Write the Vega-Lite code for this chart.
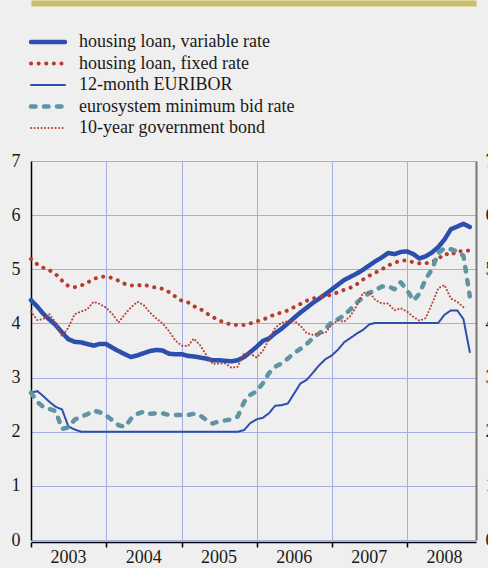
{
 "$schema": "https://vega.github.io/schema/vega-lite/v6.json",
 "width": 445, "height": 379,
 "autosize": {"type": "none"},
 "padding": {"left": 31, "top": 161, "right": 12, "bottom": 28},
 "background": "#efefef",
 "config": {"view": {"stroke": null}, "font": "Liberation Serif, Times New Roman, serif",
  "axis": {"labelFont": "Liberation Serif, Times New Roman, serif"},
  "legend": {"labelFont": "Liberation Serif, Times New Roman, serif"}},
 "data": {"values": [
  {"d":"2003-01-01","var":4.43,"fix":5.19,"eur":2.72,"bid":2.72,"bond":4.22},
  {"d":"2003-02-01","var":4.31,"fix":5.09,"eur":2.75,"bid":2.55,"bond":4.06},
  {"d":"2003-03-01","var":4.18,"fix":5.03,"eur":2.66,"bid":2.46,"bond":4.08},
  {"d":"2003-04-01","var":4.07,"fix":4.98,"eur":2.55,"bid":2.42,"bond":4.17},
  {"d":"2003-05-01","var":3.97,"fix":4.91,"eur":2.46,"bid":2.38,"bond":4.01},
  {"d":"2003-06-01","var":3.83,"fix":4.79,"eur":2.41,"bid":2.05,"bond":3.76},
  {"d":"2003-07-01","var":3.71,"fix":4.69,"eur":2.10,"bid":2.08,"bond":3.92},
  {"d":"2003-08-01","var":3.66,"fix":4.67,"eur":2.04,"bid":2.22,"bond":4.17},
  {"d":"2003-09-01","var":3.65,"fix":4.70,"eur":2.00,"bid":2.28,"bond":4.22},
  {"d":"2003-10-01","var":3.62,"fix":4.75,"eur":2.00,"bid":2.32,"bond":4.26},
  {"d":"2003-11-01","var":3.59,"fix":4.82,"eur":2.00,"bid":2.39,"bond":4.40},
  {"d":"2003-12-01","var":3.62,"fix":4.86,"eur":2.00,"bid":2.36,"bond":4.36},
  {"d":"2004-01-01","var":3.62,"fix":4.86,"eur":2.00,"bid":2.30,"bond":4.29},
  {"d":"2004-02-01","var":3.55,"fix":4.84,"eur":2.00,"bid":2.21,"bond":4.17},
  {"d":"2004-03-01","var":3.49,"fix":4.79,"eur":2.00,"bid":2.12,"bond":4.02},
  {"d":"2004-04-01","var":3.43,"fix":4.73,"eur":2.00,"bid":2.09,"bond":4.17},
  {"d":"2004-05-01","var":3.38,"fix":4.70,"eur":2.00,"bid":2.24,"bond":4.30},
  {"d":"2004-06-01","var":3.41,"fix":4.70,"eur":2.00,"bid":2.33,"bond":4.40},
  {"d":"2004-07-01","var":3.45,"fix":4.72,"eur":2.00,"bid":2.37,"bond":4.34},
  {"d":"2004-08-01","var":3.49,"fix":4.68,"eur":2.00,"bid":2.33,"bond":4.20},
  {"d":"2004-09-01","var":3.51,"fix":4.66,"eur":2.00,"bid":2.34,"bond":4.09},
  {"d":"2004-10-01","var":3.50,"fix":4.64,"eur":2.00,"bid":2.34,"bond":4.00},
  {"d":"2004-11-01","var":3.44,"fix":4.58,"eur":2.00,"bid":2.31,"bond":3.86},
  {"d":"2004-12-01","var":3.43,"fix":4.50,"eur":2.00,"bid":2.31,"bond":3.69},
  {"d":"2005-01-01","var":3.43,"fix":4.42,"eur":2.00,"bid":2.31,"bond":3.59},
  {"d":"2005-02-01","var":3.40,"fix":4.39,"eur":2.00,"bid":2.31,"bond":3.58},
  {"d":"2005-03-01","var":3.39,"fix":4.32,"eur":2.00,"bid":2.33,"bond":3.72},
  {"d":"2005-04-01","var":3.37,"fix":4.27,"eur":2.00,"bid":2.30,"bond":3.60},
  {"d":"2005-05-01","var":3.35,"fix":4.19,"eur":2.00,"bid":2.22,"bond":3.42},
  {"d":"2005-06-01","var":3.32,"fix":4.12,"eur":2.00,"bid":2.15,"bond":3.25},
  {"d":"2005-07-01","var":3.32,"fix":4.06,"eur":2.00,"bid":2.19,"bond":3.26},
  {"d":"2005-08-01","var":3.31,"fix":4.01,"eur":2.00,"bid":2.21,"bond":3.26},
  {"d":"2005-09-01","var":3.30,"fix":3.98,"eur":2.00,"bid":2.23,"bond":3.18},
  {"d":"2005-10-01","var":3.32,"fix":3.97,"eur":2.00,"bid":2.28,"bond":3.20},
  {"d":"2005-11-01","var":3.38,"fix":3.97,"eur":2.03,"bid":2.55,"bond":3.45},
  {"d":"2005-12-01","var":3.47,"fix":4.00,"eur":2.16,"bid":2.68,"bond":3.44},
  {"d":"2006-01-01","var":3.57,"fix":4.04,"eur":2.23,"bid":2.75,"bond":3.37},
  {"d":"2006-02-01","var":3.68,"fix":4.07,"eur":2.26,"bid":2.90,"bond":3.50},
  {"d":"2006-03-01","var":3.72,"fix":4.12,"eur":2.34,"bid":3.08,"bond":3.70},
  {"d":"2006-04-01","var":3.82,"fix":4.17,"eur":2.48,"bid":3.20,"bond":3.92},
  {"d":"2006-05-01","var":3.90,"fix":4.20,"eur":2.49,"bid":3.26,"bond":4.01},
  {"d":"2006-06-01","var":4.00,"fix":4.24,"eur":2.52,"bid":3.35,"bond":4.04},
  {"d":"2006-07-01","var":4.10,"fix":4.30,"eur":2.70,"bid":3.45,"bond":4.05},
  {"d":"2006-08-01","var":4.20,"fix":4.36,"eur":2.89,"bid":3.53,"bond":3.96},
  {"d":"2006-09-01","var":4.29,"fix":4.42,"eur":2.96,"bid":3.62,"bond":3.82},
  {"d":"2006-10-01","var":4.38,"fix":4.46,"eur":3.09,"bid":3.73,"bond":3.79},
  {"d":"2006-11-01","var":4.46,"fix":4.49,"eur":3.23,"bid":3.82,"bond":3.81},
  {"d":"2006-12-01","var":4.54,"fix":4.51,"eur":3.34,"bid":3.90,"bond":3.83},
  {"d":"2007-01-01","var":4.63,"fix":4.53,"eur":3.41,"bid":4.03,"bond":3.98},
  {"d":"2007-02-01","var":4.72,"fix":4.58,"eur":3.52,"bid":4.08,"bond":4.06},
  {"d":"2007-03-01","var":4.80,"fix":4.62,"eur":3.65,"bid":4.15,"bond":4.03},
  {"d":"2007-04-01","var":4.86,"fix":4.66,"eur":3.73,"bid":4.26,"bond":4.14},
  {"d":"2007-05-01","var":4.92,"fix":4.72,"eur":3.81,"bid":4.38,"bond":4.32},
  {"d":"2007-06-01","var":4.99,"fix":4.81,"eur":3.88,"bid":4.48,"bond":4.56},
  {"d":"2007-07-01","var":5.07,"fix":4.88,"eur":3.98,"bid":4.56,"bond":4.58},
  {"d":"2007-08-01","var":5.15,"fix":4.94,"eur":4.01,"bid":4.62,"bond":4.43},
  {"d":"2007-09-01","var":5.22,"fix":5.00,"eur":4.01,"bid":4.68,"bond":4.37},
  {"d":"2007-10-01","var":5.30,"fix":5.07,"eur":4.01,"bid":4.69,"bond":4.37},
  {"d":"2007-11-01","var":5.28,"fix":5.12,"eur":4.01,"bid":4.63,"bond":4.24},
  {"d":"2007-12-01","var":5.32,"fix":5.16,"eur":4.01,"bid":4.76,"bond":4.28},
  {"d":"2008-01-01","var":5.33,"fix":5.16,"eur":4.01,"bid":4.62,"bond":4.22},
  {"d":"2008-02-01","var":5.28,"fix":5.13,"eur":4.01,"bid":4.42,"bond":4.12},
  {"d":"2008-03-01","var":5.20,"fix":5.11,"eur":4.01,"bid":4.55,"bond":4.05},
  {"d":"2008-04-01","var":5.24,"fix":5.11,"eur":4.01,"bid":4.82,"bond":4.10},
  {"d":"2008-05-01","var":5.31,"fix":5.14,"eur":4.01,"bid":5.00,"bond":4.36},
  {"d":"2008-06-01","var":5.41,"fix":5.19,"eur":4.01,"bid":5.30,"bond":4.65},
  {"d":"2008-07-01","var":5.55,"fix":5.29,"eur":4.16,"bid":5.39,"bond":4.71},
  {"d":"2008-08-01","var":5.74,"fix":5.26,"eur":4.24,"bid":5.37,"bond":4.46},
  {"d":"2008-09-01","var":5.79,"fix":5.34,"eur":4.24,"bid":5.33,"bond":4.40},
  {"d":"2008-10-01","var":5.84,"fix":5.33,"eur":4.08,"bid":5.25,"bond":4.30},
  {"d":"2008-11-01","var":5.78,"fix":5.35,"eur":3.47,"bid":4.50,"bond":null}
 ]},
 "transform": [{"fold": ["var", "fix", "eur", "bid", "bond"], "as": ["series", "v"]}],
 "resolve": {"axis": {"x": "independent", "y": "independent"}},
 "layer": [
  {
   "mark": {"type": "line", "strokeCap": "round", "strokeJoin": "round"},
   "encoding": {
    "x": {"field": "d", "type": "temporal",
     "scale": {"type": "utc", "domain": [{"year": 2003, "month": 1, "date": 1, "utc": true}, {"year": 2008, "month": 12, "date": 1, "utc": true}]},
     "axis": {"orient": "bottom", "title": null, "format": "%Y",
      "values": [{"year": 2003, "month": 1, "date": 1, "utc": true}, {"year": 2004, "month": 1, "date": 1, "utc": true}, {"year": 2005, "month": 1, "date": 1, "utc": true}, {"year": 2006, "month": 1, "date": 1, "utc": true}, {"year": 2007, "month": 1, "date": 1, "utc": true}, {"year": 2008, "month": 1, "date": 1, "utc": true}],
      "labelOffset": 37, "labelFlush": false, "labelOverlap": false, "offset": 2,
      "domainColor": "#000", "domainWidth": 1.5, "tickColor": "#000", "tickWidth": 1.5, "tickSize": 5,
      "labelPadding": 1, "labelFontSize": 18, "labelColor": "#1a1a1a",
      "grid": true, "gridColor": "#a4ace4", "gridWidth": 1}},
    "y": {"field": "v", "type": "quantitative",
     "scale": {"domain": [0, 7], "nice": false},
     "axis": {"orient": "left", "title": null, "values": [0, 1, 2, 3, 4, 5, 6, 7], "ticks": false,
      "domainColor": "#000", "domainWidth": 1.5, "labelPadding": 11,
      "labelFontSize": 18, "labelColor": "#1a1a1a",
      "grid": true, "gridColor": "#a4ace4", "gridWidth": 1}},
    "color": {"field": "series", "type": "nominal",
     "scale": {"domain": ["var", "fix", "eur", "bid", "bond"], "range": ["#2c4fae", "#b63c30", "#2c4fae", "#5e94a4", "#b84035"]},
     "legend": {"title": null, "orient": "none", "legendX": 8, "legendY": -128,
      "symbolType": "M-3.4,0H3.4", "symbolSize": 100, "labelOffset": 22, "rowPadding": 3.5, "padding": 0,
      "labelFont": "Liberation Serif", "labelFontSize": 18, "labelColor": "#1a1a1a", "labelLimit": 400,
      "labelExpr": "{'var':'housing loan, variable rate','fix':'housing loan, fixed rate','eur':'12-month EURIBOR','bid':'eurosystem minimum bid rate','bond':'10-year government bond'}[datum.label]",
      "encode": {"symbols": {"update": {"strokeCap": {"value": "round"}, "fill": {"value": "transparent"}}},
                 "labels": {"update": {"font": {"value": "Liberation Serif"}}}}}},
    "strokeDash": {"field": "series", "type": "nominal",
     "scale": {"domain": ["var", "fix", "eur", "bid", "bond"], "range": [[1, 0], [0.1, 7.5], [1, 0], [4.5, 8.5], [0.1, 3.4]]},
     "legend": {"title": null, "orient": "none", "legendX": 8, "legendY": -128,
      "symbolType": "M-3.4,0H3.4", "symbolSize": 100, "labelOffset": 22, "rowPadding": 3.5, "padding": 0,
      "labelFont": "Liberation Serif", "labelFontSize": 18, "labelColor": "#1a1a1a", "labelLimit": 400,
      "labelExpr": "{'var':'housing loan, variable rate','fix':'housing loan, fixed rate','eur':'12-month EURIBOR','bid':'eurosystem minimum bid rate','bond':'10-year government bond'}[datum.label]"}},
    "strokeWidth": {"field": "series", "type": "nominal",
     "scale": {"type": "ordinal", "domain": ["var", "fix", "eur", "bid", "bond"], "range": [4.5, 4, 2, 4.5, 2]},
     "legend": {"title": null, "orient": "none", "legendX": 8, "legendY": -128,
      "symbolType": "M-3.4,0H3.4", "symbolSize": 100, "labelOffset": 22, "rowPadding": 3.5, "padding": 0,
      "labelFont": "Liberation Serif", "labelFontSize": 18, "labelColor": "#1a1a1a", "labelLimit": 400,
      "labelExpr": "{'var':'housing loan, variable rate','fix':'housing loan, fixed rate','eur':'12-month EURIBOR','bid':'eurosystem minimum bid rate','bond':'10-year government bond'}[datum.label]"}}
   }
  },
  {
   "mark": {"type": "point", "opacity": 0},
   "encoding": {
    "x": {"field": "d", "type": "temporal",
     "axis": {"orient": "top", "title": null, "offset": 158, "domainColor": "#ccbe62", "domainWidth": 6, "domainCap": "butt", "ticks": false, "labels": false, "grid": false}},
    "y": {"field": "v", "type": "quantitative",
     "axis": {"orient": "right", "title": null, "values": [0, 1, 2, 3, 4, 5, 6, 7], "ticks": false, "grid": false,
      "domainColor": "#777", "domainWidth": 2, "labelPadding": 9,
      "labelFontSize": 18, "labelColor": "#1a1a1a"}}
   }
  }
 ]
}
